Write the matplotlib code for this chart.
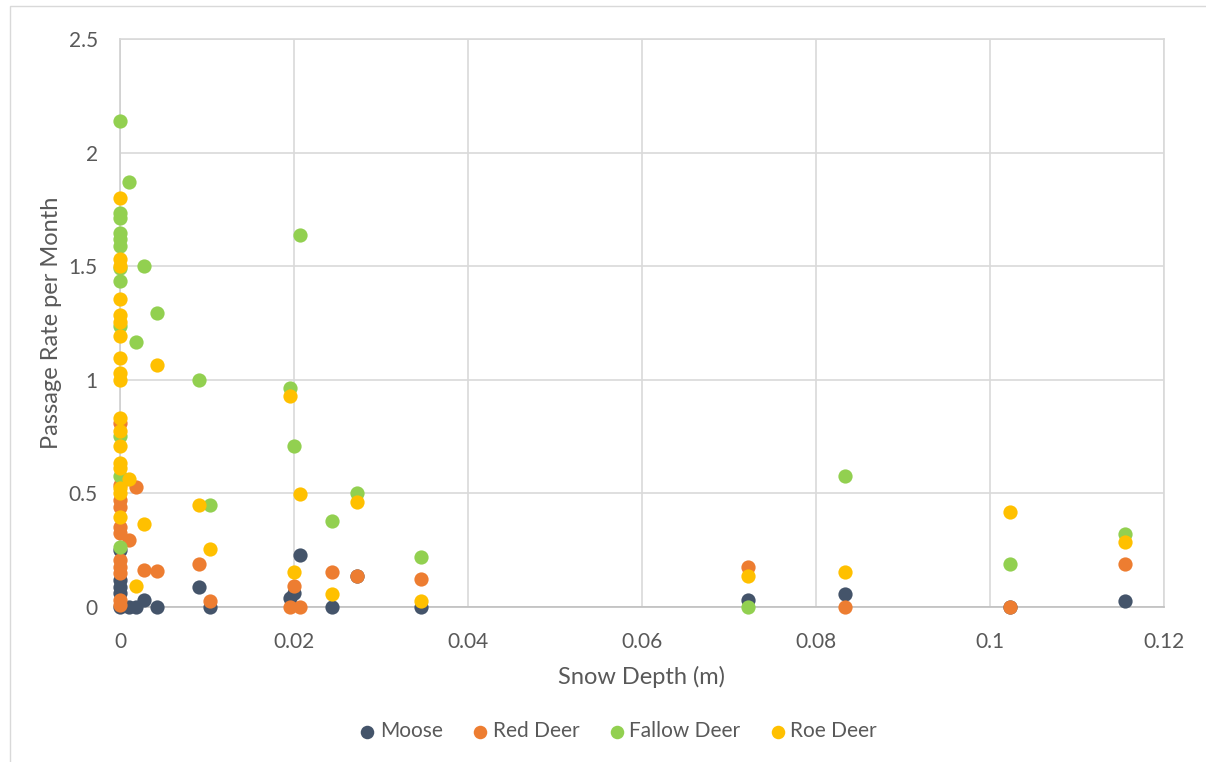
import matplotlib
matplotlib.use("Agg")
import matplotlib.pyplot as plt
from matplotlib.ticker import FuncFormatter
from matplotlib.patches import Rectangle

plt.rcParams['font.family'] = ['Lato', 'DejaVu Sans']

# ---- data ----
moose_x = [0, 0, 0, 0, 0, 0.00107, 0.00184, 0.0028, 0.0042, 0.0091, 0.0103,
           0.0195, 0.0200, 0.0207, 0.0244, 0.0272, 0.0346, 0.0722, 0.0833, 0.1023, 0.1155]
moose_y = [0.251, 0.119, 0.090, 0.062, 0.0, 0.0, 0.0, 0.031, 0.0, 0.090, 0.0,
           0.038, 0.060, 0.229, 0.0, 0.137, 0.0, 0.031, 0.057, 0.0, 0.026]

red_x = [0, 0, 0, 0, 0, 0, 0, 0, 0, 0, 0, 0.00107, 0.00184, 0.0028, 0.0042, 0.0091, 0.0103,
         0.0195, 0.0200, 0.0207, 0.0244, 0.0272, 0.0346, 0.0722, 0.0833, 0.1023, 0.1155]
red_y = [0.81, 0.538, 0.472, 0.442, 0.354, 0.325, 0.207, 0.178, 0.149, 0.031, 0.009,
         0.295, 0.530, 0.163, 0.159, 0.188, 0.026,
         0.0, 0.093, 0.0, 0.156, 0.137, 0.122, 0.175, 0.0, 0.0, 0.188]

fallow_x = [0, 0, 0, 0, 0, 0, 0, 0, 0, 0, 0, 0, 0.00107, 0.00184, 0.0028, 0.0042, 0.0091, 0.0103,
            0.0195, 0.0200, 0.0207, 0.0244, 0.0272, 0.0346, 0.0722, 0.0833, 0.1023, 0.1155]
fallow_y = [2.138, 1.736, 1.714, 1.648, 1.618, 1.589, 1.49, 1.434, 1.236, 0.751, 0.575, 0.266,
            1.871, 1.167, 1.502, 1.292, 1.0, 0.447,
            0.964, 0.707, 1.636, 0.380, 0.501, 0.222, 0.0, 0.578, 0.188, 0.320]

roe_x = [0, 0, 0, 0, 0, 0, 0, 0, 0, 0, 0, 0, 0, 0, 0, 0, 0, 0,
         0.00107, 0.00184, 0.0028, 0.0042, 0.0091, 0.0103,
         0.0195, 0.0200, 0.0207, 0.0244, 0.0272, 0.0346, 0.0722, 0.0833, 0.1023, 0.1155]
roe_y = [1.80, 1.533, 1.50, 1.354, 1.287, 1.254, 1.192, 1.097, 1.030, 0.998, 0.832, 0.773,
         0.707, 0.635, 0.613, 0.525, 0.503, 0.398,
         0.563, 0.094, 0.365, 1.064, 0.447, 0.254,
         0.930, 0.156, 0.498, 0.057, 0.462, 0.026, 0.137, 0.156, 0.416, 0.285]

series = [
    ("Moose", moose_x, moose_y, "#44546A"),
    ("Red Deer", red_x, red_y, "#ED7D31"),
    ("Fallow Deer", fallow_x, fallow_y, "#92D050"),
    ("Roe Deer", roe_x, roe_y, "#FFC000"),
]

x_ticks = [0, 0.02, 0.04, 0.06, 0.08, 0.1, 0.12]
y_ticks = [0, 0.5, 1, 1.5, 2, 2.5]

# ---- figure ----
W, H = 1206, 762
fig = plt.figure(figsize=(W / 100, H / 100), dpi=100)
fig.patches.append(Rectangle((10 / W, -0.1), 1.2, 1 - 6 / H + 0.1, transform=fig.transFigure,
                             fill=False, edgecolor="#D9D9D9", linewidth=1.0, zorder=0))

ax = fig.add_axes([120 / W, 1 - 607 / H, (1164 - 120) / W, (607 - 39) / H])

for name, xs, ys, c in series:
    ax.scatter(xs, ys, s=105, color=c, label=name, linewidths=0, zorder=3, clip_on=False)

ax.set_xlim(0, 0.12)
ax.set_ylim(0, 2.5)
ax.set_xticks(x_ticks)
ax.set_yticks(y_ticks)
fmt = FuncFormatter(lambda v, p: f"{v:g}")
ax.xaxis.set_major_formatter(fmt)
ax.yaxis.set_major_formatter(fmt)
ax.grid(True, color="#D9D9D9", linewidth=1.2, zorder=0)
ax.set_axisbelow(True)
for s in ["top", "right"]:
    ax.spines[s].set_color("#D9D9D9")
    ax.spines[s].set_linewidth(1.2)
ax.spines["left"].set_color("#D0D0D0")
ax.spines["left"].set_linewidth(1.2)
ax.spines["bottom"].set_color("#BFBFBF")
ax.spines["bottom"].set_linewidth(1.2)
ax.tick_params(axis="both", length=0, labelsize=15, labelcolor="#595959")
ax.tick_params(axis="y", pad=16)
ax.tick_params(axis="x", pad=18)

ax.set_xlabel("Snow Depth (m)", fontsize=17, color="#595959", labelpad=10)
ax.set_ylabel("Passage Rate per Month", fontsize=17, color="#595959", labelpad=5)

leg = fig.legend(loc="center", bbox_to_anchor=(616 / W, 1 - 731 / H), ncol=4, frameon=False,
                 fontsize=15, handletextpad=0.0, columnspacing=1.2, markerscale=0.95,
                 handlelength=1.2)
for t in leg.get_texts():
    t.set_color("#595959")

fig.savefig("out.png", dpi=100)
